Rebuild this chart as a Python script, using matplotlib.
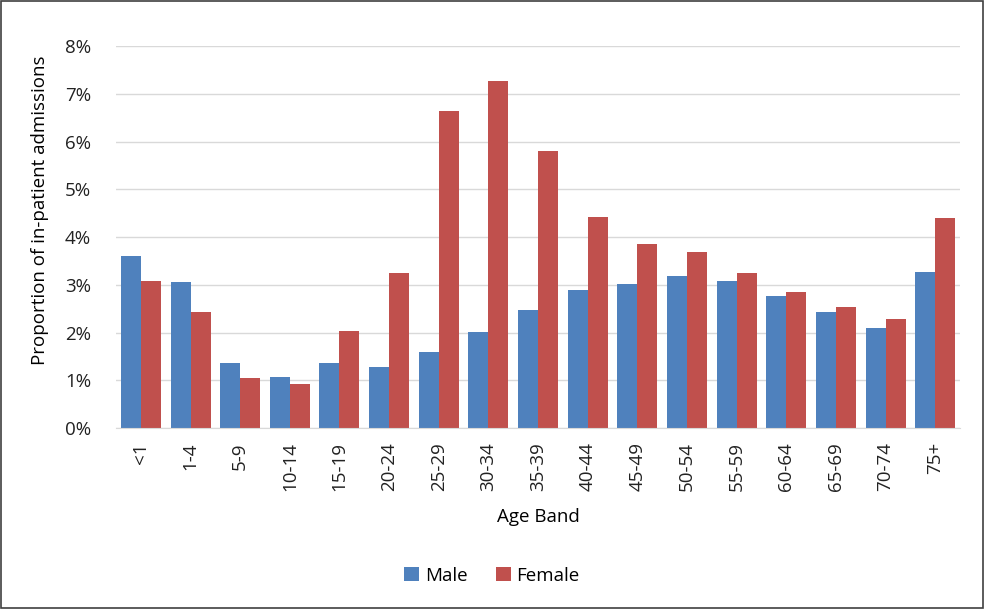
import numpy as np
import matplotlib.pyplot as plt
from matplotlib.patches import Rectangle
from matplotlib.ticker import FuncFormatter

plt.rcParams['font.family'] = ['Open Sans', 'DejaVu Sans']

age_bands = ['<1', '1-4', '5-9', '10-14', '15-19', '20-24', '25-29', '30-34', '35-39',
             '40-44', '45-49', '50-54', '55-59', '60-64', '65-69', '70-74', '75+']
male = [3.60, 3.06, 1.36, 1.07, 1.36, 1.28, 1.59, 2.01, 2.47,
        2.89, 3.02, 3.18, 3.08, 2.76, 2.43, 2.09, 3.27]
female = [3.08, 2.43, 1.05, 0.92, 2.03, 3.25, 6.64, 7.27, 5.80,
          4.42, 3.85, 3.69, 3.25, 2.85, 2.53, 2.28, 4.40]

fs = 13.5

fig = plt.figure(figsize=(9.84, 6.09), dpi=100)
ax = fig.add_axes([0.118, 0.297, 0.8576, 0.6275])

x = np.arange(len(age_bands))
w = 0.403
ax.bar(x - w / 2, male, w, color='#4F81BD', label='Male')
ax.bar(x + w / 2, female, w, color='#C0504D', label='Female')

ax.set_xlim(-0.5, len(age_bands) - 0.5)
ax.set_ylim(0, 8)
ax.set_yticks(range(0, 9))
ax.yaxis.set_major_formatter(FuncFormatter(lambda v, p: f'{int(v)}%'))
ax.grid(axis='y', color='#D9D9D9', linewidth=1)
ax.set_axisbelow(True)
for s in ['top', 'right', 'left']:
    ax.spines[s].set_visible(False)
ax.spines['bottom'].set_color('#D9D9D9')
ax.tick_params(axis='both', length=0, labelsize=fs, colors='#222222')
ax.tick_params(axis='y', pad=18)
ax.tick_params(axis='x', pad=10)
ax.set_xticks(x)
ax.set_xticklabels(age_bands, rotation=90, va='top')

ax.set_xlabel('Age Band', fontsize=fs, labelpad=12)
ax.set_ylabel('Proportion of in-patient admissions', fontsize=fs)
ax.yaxis.set_label_coords(-0.08, 0.57)

fig.legend(loc='center', bbox_to_anchor=(0.5, 0.055), ncol=2, frameon=False,
           fontsize=fs, handlelength=0.8, handleheight=0.8, handletextpad=0.3,
           columnspacing=1.5)

fig.patches.append(Rectangle((0.001, 0.001), 0.998, 0.997, transform=fig.transFigure,
                             fill=False, edgecolor='#404040', linewidth=1.2))

fig.savefig('out.png', dpi=100)
